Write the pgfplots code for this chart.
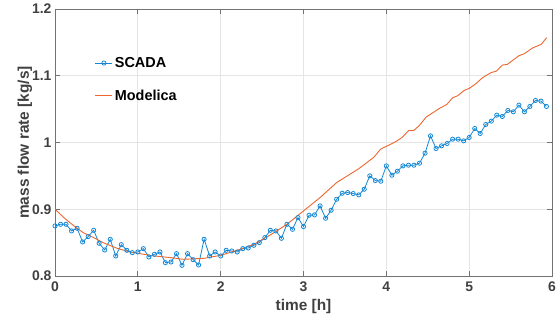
\documentclass[border=0pt]{standalone}
\usepackage{pgfplots}
\pgfplotsset{compat=1.18}
\usepackage{fontspec}
\setmainfont{Liberation Sans}
\definecolor{mblue}{rgb}{0.08,0.53,0.83}
\definecolor{morange}{rgb}{0.93,0.40,0.18}
\definecolor{tickgray}{gray}{0.25}
\definecolor{boxgray}{gray}{0.45}
\definecolor{gridgray}{gray}{0.9}
\begin{document}
\begin{tikzpicture}[x=1bp,y=1bp]
\useasboundingbox (0,0) rectangle (560,329);
\begin{axis}[
  at={(55bp,53bp)}, anchor=south west,
  scale only axis, width=497bp, height=267bp,
  xmin=0, xmax=6, ymin=0.8, ymax=1.2,
  xtick={0,1,2,3,4,5,6},
  ytick={0.8,0.9,1.0,1.1,1.2},
  yticklabels={0.8,0.9,1,1.1,1.2},
  grid=major,
  major grid style={gridgray, line width=0.8pt},
  axis line style={boxgray, line width=0.9pt},
  tick style={boxgray, line width=0.9pt},
  tick align=inside,
  major tick length=5bp,
  /pgf/number format/assume math mode=true,
  tick label style={font=\fontsize{14}{16}\selectfont\bfseries, text=tickgray},
  xticklabel style={yshift=-2bp},
  label style={font=\fontsize{15.5}{18}\selectfont\bfseries, text=tickgray},
  xlabel={time [h]},
  ylabel={mass flow rate [kg/s]},
  xlabel style={yshift=-1bp},
  ylabel style={yshift=-7bp},
  legend style={at={(axis description cs:0.074,0.835)}, anchor=north west, draw=none, fill=none,
    font=\fontsize{14.5}{17}\selectfont\bfseries, row sep=17bp},
  legend cell align=left,
]
\addplot[mblue, line width=0.8pt, mark=o, mark size=2.1bp, mark options={line width=0.8pt}] coordinates {
(0.000,0.875) (0.067,0.8775) (0.133,0.8775) (0.200,0.8675) (0.267,0.8715)
(0.333,0.851) (0.400,0.859) (0.467,0.8685) (0.533,0.849) (0.600,0.839)
(0.667,0.855) (0.733,0.830) (0.800,0.847) (0.867,0.8385) (0.933,0.835)
(1.000,0.836) (1.067,0.841) (1.133,0.8285) (1.200,0.8325) (1.267,0.836)
(1.333,0.820) (1.400,0.821) (1.467,0.8335) (1.533,0.816) (1.600,0.8335)
(1.667,0.8245) (1.733,0.8165) (1.800,0.855) (1.867,0.830) (1.933,0.836)
(2.000,0.830) (2.067,0.8385) (2.133,0.8375) (2.200,0.836) (2.267,0.841)
(2.333,0.842) (2.400,0.846) (2.467,0.850) (2.533,0.8575) (2.600,0.8685)
(2.667,0.8675) (2.733,0.8565) (2.800,0.8775) (2.867,0.870) (2.933,0.8875)
(3.000,0.874) (3.067,0.891) (3.133,0.8915) (3.200,0.905) (3.267,0.8865)
(3.333,0.8985) (3.400,0.915) (3.467,0.924) (3.533,0.925) (3.600,0.9235)
(3.667,0.9215) (3.733,0.930) (3.800,0.950) (3.867,0.943) (3.933,0.942)
(4.000,0.965) (4.067,0.951) (4.133,0.957) (4.200,0.965) (4.267,0.966)
(4.333,0.966) (4.400,0.969) (4.467,0.984) (4.533,1.010) (4.600,0.991)
(4.667,0.995) (4.733,0.9985) (4.800,1.005) (4.867,1.005) (4.933,1.0025)
(5.000,1.0075) (5.067,1.021) (5.133,1.0135) (5.200,1.027) (5.267,1.032)
(5.333,1.041) (5.400,1.039) (5.467,1.048) (5.533,1.046) (5.600,1.056)
(5.667,1.046) (5.733,1.054) (5.800,1.063) (5.867,1.062) (5.933,1.054)
};
\addlegendentry{SCADA}
\addplot[morange, line width=0.9pt, no marks] coordinates {
(0.00,0.900) (0.12,0.886) (0.24,0.874) (0.34,0.865) (0.46,0.858) (0.58,0.850)
(0.75,0.8415) (0.90,0.836) (1.00,0.834) (1.20,0.830) (1.40,0.8275) (1.55,0.825)
(1.80,0.8265) (2.00,0.831) (2.20,0.8385) (2.40,0.8475) (2.60,0.8615) (2.80,0.8775)
(3.00,0.8975) (3.20,0.9175) (3.40,0.940) (3.67,0.961) (3.85,0.978) (3.93,0.990)
(4.11,1.001) (4.19,1.0075) (4.27,1.018) (4.33,1.018) (4.395,1.025) (4.48,1.038)
(4.64,1.051) (4.73,1.057) (4.80,1.067) (4.86,1.070) (4.94,1.078) (5.00,1.081)
(5.08,1.088) (5.16,1.097) (5.26,1.1045) (5.33,1.107) (5.40,1.116) (5.46,1.117)
(5.60,1.130) (5.665,1.133) (5.77,1.142) (5.87,1.147) (5.935,1.157)
};
\addlegendentry{Modelica}
\end{axis}
\end{tikzpicture}
\end{document}
